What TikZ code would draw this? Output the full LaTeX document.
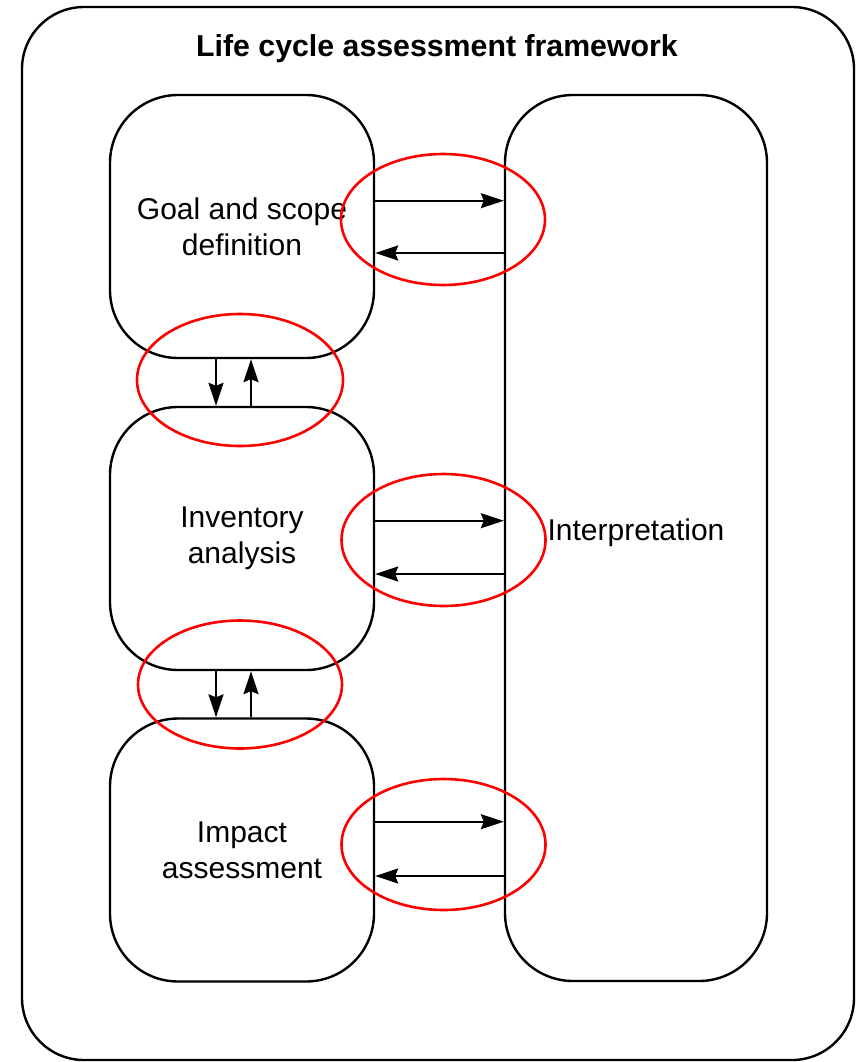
\documentclass[tikz,border=0pt]{standalone}
\usepackage{fontspec}
\setmainfont{Liberation Sans}
\usetikzlibrary{arrows.meta,calc}
\begin{document}
\begin{tikzpicture}[x=1pt,y=-1pt,
  stage/.style={draw, line width=2.4pt, rounded corners=68pt,
    minimum width=264pt, minimum height=263pt, align=center,
    font=\fontsize{30}{36}\selectfont, inner sep=0pt},
  flow/.style={line width=1.7pt, -{Stealth[length=23pt,width=15pt,inset=3pt]}},
  ring/.style={draw=red, line width=2.6pt},
]
\useasboundingbox (0,0) rectangle (856,1062);

% outer frame and title
\node[draw, line width=2.4pt, rounded corners=62pt,
      minimum width=832pt, minimum height=1053pt] (frame) at (438,533.5) {};
\node[font=\bfseries\fontsize{30.3}{36}\selectfont] (title) at (437,49)
  {Life cycle assessment framework};

% the phases
\node[stage] (goal) at (242,226.5) {Goal and scope\\definition};
\node[stage] (inv)  at (242,538.5) {Inventory\\analysis};
\node[stage] (imp)  at (242,850)   {Impact\\assessment};
\node[stage, minimum width=262pt, minimum height=886pt,
      text height=21.5pt, text depth=16pt] (interp) at (636,538) {Interpretation};

% exchanges with the interpretation phase
\draw[flow] ($(goal.east)+(0,-25.8)$) -- ($(goal.east -| interp.west)+(0,-25.8)$);
\draw[flow] ($(goal.east -| interp.west)+(0,26.5)$) -- ($(goal.east)+(0,26.5)$);
\draw[flow] ($(inv.east)+(0,-17.8)$) -- ($(inv.east -| interp.west)+(0,-17.8)$);
\draw[flow] ($(inv.east -| interp.west)+(0,35.5)$) -- ($(inv.east)+(0,35.5)$);
\draw[flow] ($(imp.east)+(0,-28.3)$) -- ($(imp.east -| interp.west)+(0,-28.3)$);
\draw[flow] ($(imp.east -| interp.west)+(0,26)$) -- ($(imp.east)+(0,26)$);

% exchanges between consecutive phases
\draw[flow] ($(goal.south)+(-26,0)$) -- ($(inv.north)+(-26,0)$);
\draw[flow] ($(inv.north)+(9,0)$) -- ($(goal.south)+(9,0)$);
\draw[flow] ($(inv.south)+(-26,0)$) -- ($(imp.north)+(-26,0)$);
\draw[flow] ($(imp.north)+(9,0)$) -- ($(inv.south)+(9,0)$);

% highlight rings
\draw[ring] (443,219.5) ellipse [x radius=102, y radius=65.5];
\draw[ring] (443.5,540) ellipse [x radius=102, y radius=66];
\draw[ring] (443.5,844.5) ellipse [x radius=102, y radius=65.5];
\draw[ring] (240,380) ellipse [x radius=103, y radius=66];
\draw[ring] (240,684.5) ellipse [x radius=102, y radius=64];
\end{tikzpicture}
\end{document}
